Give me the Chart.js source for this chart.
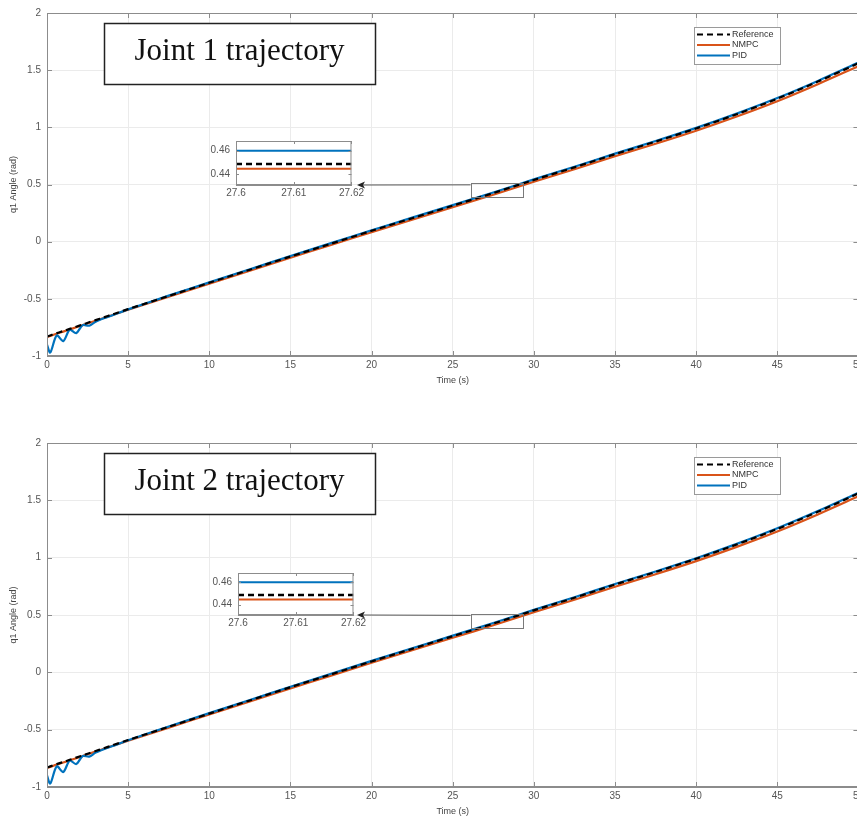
<!DOCTYPE html>
<html>
<head>
<meta charset="utf-8">
<script src="https://cdn.jsdelivr.net/npm/chart.js@4/dist/chart.umd.min.js"></script>
<style>
  html, body { margin: 0; padding: 0; background: #fff; }
  #page { position: relative; width: 857px; height: 818px; overflow: hidden; }
  canvas { position: absolute; }
</style>
</head>
<body>
<div id="page">
  <canvas id="joint1" width="867" height="387" style="left:0;top:0"></canvas>
  <canvas id="joint2" width="867" height="388" style="left:0;top:430px"></canvas>
  <canvas id="inset1" width="176" height="83" style="left:190px;top:129px"></canvas>
  <canvas id="inset2" width="176" height="81" style="left:192px;top:561px"></canvas>
</div>
<script>
// time (s)
var timeS = [0, 0.2, 0.6, 1.0, 1.4, 1.8, 2.2, 2.6, 3.0, 3.5, 4.0, 5, 7.5, 10, 12.5, 15, 17.5, 20,
  22.5, 25, 27.5, 30, 32.5, 35, 37.5, 40, 42.5, 45, 47.5, 50];

// joint 1 (rad)
var refJ1 = [-0.83, -0.82, -0.80, -0.782, -0.763, -0.744, -0.725, -0.705, -0.686, -0.662, -0.638, -0.59,
  -0.475, -0.36, -0.245, -0.13, -0.018, 0.095, 0.205, 0.315, 0.425, 0.54, 0.65, 0.765, 0.875, 0.99,
  1.115, 1.25, 1.40, 1.56];
var nmpcJ1 = [-0.835, -0.825, -0.805, -0.787, -0.768, -0.749, -0.73, -0.71, -0.691, -0.667, -0.643, -0.596,
  -0.482, -0.368, -0.254, -0.14, -0.029, 0.083, 0.192, 0.301, 0.41, 0.524, 0.633, 0.747, 0.856, 0.97,
  1.094, 1.228, 1.377, 1.535];
var pidJ1 = [-0.90, -0.97, -0.82, -0.87, -0.77, -0.80, -0.73, -0.735, -0.70, -0.67, -0.645, -0.592,
  -0.472, -0.356, -0.241, -0.126, -0.013, 0.1, 0.21, 0.32, 0.43, 0.545, 0.655, 0.77, 0.88, 0.995,
  1.12, 1.256, 1.406, 1.567];

// joint 2 (rad)
var refJ2 = [-0.83, -0.82, -0.80, -0.782, -0.763, -0.744, -0.725, -0.705, -0.686, -0.662, -0.638, -0.59,
  -0.475, -0.36, -0.245, -0.13, -0.018, 0.095, 0.205, 0.315, 0.425, 0.54, 0.65, 0.765, 0.875, 0.99,
  1.115, 1.25, 1.40, 1.56];
var nmpcJ2 = [-0.835, -0.825, -0.805, -0.787, -0.768, -0.749, -0.73, -0.71, -0.691, -0.667, -0.643, -0.596,
  -0.482, -0.368, -0.254, -0.14, -0.029, 0.083, 0.192, 0.301, 0.41, 0.524, 0.633, 0.747, 0.856, 0.97,
  1.094, 1.228, 1.377, 1.535];
var pidJ2 = [-0.90, -0.97, -0.82, -0.87, -0.77, -0.80, -0.73, -0.735, -0.70, -0.67, -0.645, -0.592,
  -0.472, -0.356, -0.241, -0.126, -0.013, 0.1, 0.21, 0.32, 0.43, 0.545, 0.655, 0.77, 0.88, 0.995,
  1.12, 1.256, 1.406, 1.567];

// zoomed inset around t = 27.6 s
var insetTime = [27.6, 27.61, 27.62];
var insetRef = [0.4486, 0.4486, 0.4486];
var insetNmpc = [0.4446, 0.4446, 0.4446];
var insetPid = [0.46, 0.46, 0.46];
var insetXTicks = [27.6, 27.61, 27.62];
var insetYTicks = [0.44, 0.46];

var seriesNames = ['Reference', 'NMPC', 'PID'];
var seriesColors = ['#000000', '#D95319', '#0072BD'];

var tickFont = { family: 'Liberation Sans', size: 10 };
var tickColor = '#555555';
var axisColor = '#8c8c8c';

var pts = (xs, ys) => xs.map((t, i) => ({ x: t, y: ys[i] }));

// frame, inward ticks, title box, legend, zoom marker
var decor = {
    id: 'decor',
    beforeDraw(chart, args, o) {
        if (o.inset) {
            var a = chart.chartArea;
            chart.ctx.save();
            chart.ctx.fillStyle = '#fff';
            chart.ctx.fillRect(a.left, a.top, a.right - a.left, a.bottom - a.top);
            chart.ctx.restore();
        }
    },
    afterDraw(chart, args, o) {
        var ctx = chart.ctx, a = chart.chartArea, x = chart.scales.x, y = chart.scales.y;
        ctx.save();
        ctx.strokeStyle = axisColor;
        ctx.lineWidth = 1;
        ctx.strokeRect(a.left + 0.5, a.top + 0.5, a.right - a.left - 1, a.bottom - a.top - 1);
        var tl = o.inset ? 3 : 5;
        ctx.beginPath();
        x.ticks.forEach(t => {
            var px = Math.round(x.getPixelForValue(t.value)) + 0.5;
            ctx.moveTo(px, a.bottom); ctx.lineTo(px, a.bottom - tl);
            ctx.moveTo(px, a.top); ctx.lineTo(px, a.top + tl);
        });
        y.ticks.forEach(t => {
            var py = Math.round(y.getPixelForValue(t.value)) + 0.5;
            ctx.moveTo(a.left, py); ctx.lineTo(a.left + tl, py);
            ctx.moveTo(a.right, py); ctx.lineTo(a.right - tl, py);
        });
        ctx.stroke();

        if (!o.inset) {
            // zoom marker rectangle
            var rx0 = x.getPixelForValue(o.zoomBox[0]), rx1 = x.getPixelForValue(o.zoomBox[1]);
            var ry0 = y.getPixelForValue(o.zoomBox[3]), ry1 = y.getPixelForValue(o.zoomBox[2]);
            ctx.strokeStyle = '#7a7a7a';
            ctx.strokeRect(Math.round(rx0) + 0.5, Math.round(ry0) + 0.5, Math.round(rx1 - rx0), Math.round(ry1 - ry0));

            // arrow to inset
            var ax0 = rx0, ay0 = ry0 + 1.5;
            var ax1 = a.left + o.arrowTo[0], ay1 = a.top + o.arrowTo[1];
            ctx.strokeStyle = '#555';
            ctx.beginPath(); ctx.moveTo(ax0, ay0); ctx.lineTo(ax1 + 6, ay1); ctx.stroke();
            ctx.fillStyle = '#222';
            ctx.beginPath(); ctx.moveTo(ax1, ay1); ctx.lineTo(ax1 + 8, ay1 - 3.5); ctx.lineTo(ax1 + 6, ay1);
            ctx.lineTo(ax1 + 8, ay1 + 3.5); ctx.closePath(); ctx.fill();

            // title box
            var b = o.titleBox;
            ctx.fillStyle = '#fff';
            ctx.fillRect(a.left + b[0], a.top + b[1], b[2], b[3]);
            ctx.strokeStyle = '#222';
            ctx.lineWidth = 1.5;
            ctx.strokeRect(a.left + b[0] + 0.5, a.top + b[1] + 0.5, b[2], b[3]);
            ctx.fillStyle = '#111';
            ctx.font = '31px "Liberation Serif"';
            ctx.textAlign = 'center';
            ctx.textBaseline = 'middle';
            ctx.fillText(o.title, a.left + b[0] + b[2] / 2, a.top + b[1] + b[3] / 2 - 2);

            // legend
            var L = o.legendBox;
            var lx = a.left + L[0], ly = a.top + L[1];
            ctx.fillStyle = '#fff';
            ctx.fillRect(lx, ly, L[2], L[3]);
            ctx.strokeStyle = '#9a9a9a';
            ctx.lineWidth = 1;
            ctx.strokeRect(lx + 0.5, ly + 0.5, L[2], L[3]);
            ctx.font = '9px "Liberation Sans"';
            ctx.textAlign = 'left';
            ctx.textBaseline = 'middle';
            seriesNames.forEach((name, i) => {
                var yy = ly + 7.5 + i * 10.5;
                ctx.strokeStyle = seriesColors[i];
                ctx.lineWidth = 2;
                ctx.setLineDash(i === 0 ? [6, 4] : []);
                ctx.beginPath(); ctx.moveTo(lx + 3, yy); ctx.lineTo(lx + 36, yy); ctx.stroke();
                ctx.setLineDash([]);
                ctx.fillStyle = '#333';
                ctx.fillText(name, lx + 38, yy);
            });
        }
        ctx.restore();
    }
};

var numLabel = v => String(Math.round(v * 1000) / 1000);

var mainChart = (id, title, ref, nmpc, pid) => new Chart(document.getElementById(id), {
    type: 'line',
    data: {
        datasets: [
            { label: seriesNames[0], data: pts(timeS, ref), borderColor: seriesColors[0], borderDash: [6, 4], borderWidth: 2.2, order: 0 },
            { label: seriesNames[1], data: pts(timeS, nmpc), borderColor: seriesColors[1], borderWidth: 2.2, order: 2 },
            { label: seriesNames[2], data: pts(timeS, pid), borderColor: seriesColors[2], borderWidth: 2.2, order: 1 },
        ]
    },
    options: {
        responsive: false,
        animation: false,
        elements: { point: { radius: 0 }, line: { tension: 0.3 } },
        layout: { padding: { top: 13, right: 0, left: 0, bottom: 0 } },
        plugins: {
            legend: { display: false },
            tooltip: { enabled: false },
            decor: {
                title: title,
                titleBox: [57, 10, 271, 61],
                legendBox: [647, 14, 86, 37],
                zoomBox: [26.1, 29.3, 0.39, 0.51],
                arrowTo: [310, 172],
            }
        },
        scales: {
            x: {
                type: 'linear', min: 0, max: 50,
                ticks: { stepSize: 5, font: tickFont, color: tickColor, padding: 3, maxRotation: 0, callback: numLabel },
                grid: { color: '#ebebeb', drawTicks: false },
                border: { color: axisColor },
                title: { display: true, text: 'Time (s)', font: { family: 'Liberation Sans', size: 9 }, color: '#444', padding: { top: 0, bottom: 1 } },
                afterFit(s) { s.height = 31; }
            },
            y: {
                min: -1, max: 2,
                ticks: { stepSize: 0.5, font: tickFont, color: tickColor, padding: 6, callback: numLabel },
                grid: { color: '#ebebeb', drawTicks: false },
                border: { color: axisColor },
                title: { display: true, text: 'q1 Angle (rad)', font: { family: 'Liberation Sans', size: 9 }, color: '#444', padding: { top: 8, bottom: 4 } },
                afterFit(s) { s.width = 47; }
            }
        }
    },
    plugins: [decor]
});

var insetChart = (id, h) => new Chart(document.getElementById(id), {
    type: 'line',
    data: {
        datasets: [
            { data: pts(insetTime, insetRef), borderColor: seriesColors[0], borderDash: [6, 4], borderWidth: 2.5, order: 0 },
            { data: pts(insetTime, insetNmpc), borderColor: seriesColors[1], borderWidth: 2, order: 2 },
            { data: pts(insetTime, insetPid), borderColor: seriesColors[2], borderWidth: 2, order: 1 },
        ]
    },
    options: {
        responsive: false,
        animation: false,
        elements: { point: { radius: 0 } },
        layout: { padding: { top: 9, right: 14, left: 0, bottom: 0 } },
        plugins: { legend: { display: false }, tooltip: { enabled: false }, decor: { inset: true } },
        scales: {
            x: {
                type: 'linear', min: 27.6, max: 27.62,
                afterBuildTicks(s) { s.ticks = insetXTicks.map(v => ({ value: v })); },
                ticks: { font: tickFont, color: tickColor, padding: 2, maxRotation: 0, autoSkip: false, callback: numLabel },
                grid: { display: false, drawTicks: false },
                border: { color: axisColor },
                afterFit(s) { s.height = h; }
            },
            y: {
                min: 0.4306, max: 0.4683,
                afterBuildTicks(s) { s.ticks = insetYTicks.map(v => ({ value: v })); },
                ticks: { font: tickFont, color: tickColor, padding: 6, callback: numLabel },
                grid: { display: false, drawTicks: false },
                border: { color: axisColor },
                afterFit(s) { s.width = 46; }
            }
        }
    },
    plugins: [decor]
});

mainChart('joint1', 'Joint 1 trajectory', refJ1, nmpcJ1, pidJ1);
mainChart('joint2', 'Joint 2 trajectory', refJ2, nmpcJ2, pidJ2);
insetChart('inset1', 27);
insetChart('inset2', 27);
</script>
</body>
</html>
